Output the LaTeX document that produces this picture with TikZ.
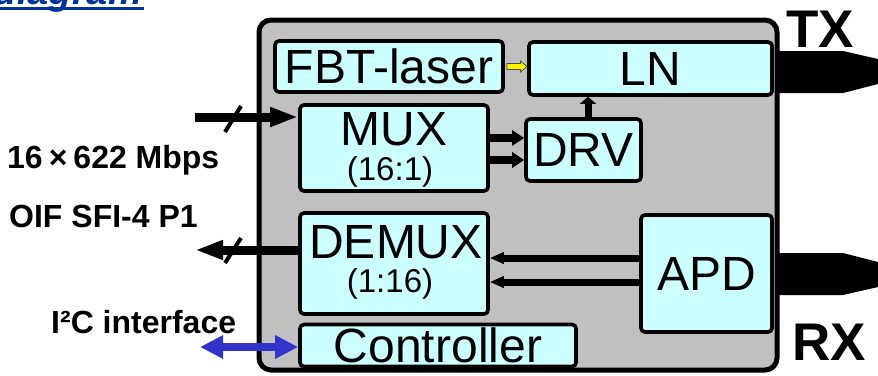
\documentclass[tikz,border=0pt]{standalone}
\usepackage{fontspec}
\setmainfont{Liberation Sans}
\usetikzlibrary{arrows.meta}
\definecolor{boxcyan}{RGB}{204,255,255}
\definecolor{panelgray}{RGB}{192,192,192}
\definecolor{titleblue}{RGB}{0,51,153}
\definecolor{i2cblue}{RGB}{51,51,204}
\tikzset{
  stepbox/.style={draw=black, line width=3.6pt, fill=boxcyan, rounded corners=4pt, inner sep=0pt},
  lbl/.style={font=\fontsize{48}{48}\selectfont, inner sep=0pt},
  sublbl/.style={font=\fontsize{33}{33}\selectfont, inner sep=0pt},
  sidelbl/.style={font=\bfseries\fontsize{32}{32}\selectfont, inner sep=0pt, anchor=base west},
  biglbl/.style={font=\bfseries\fontsize{53}{53}\selectfont, inner sep=0pt, anchor=base west},
  busarrow/.style={line width=9pt, -{Triangle[length=28pt,width=18pt]}},
  pairarrow/.style={line width=8pt, -{Triangle[length=12pt,width=15pt]}},
  rxarrow/.style={line width=7pt, -{Triangle[length=14pt,width=11pt]}},
  uparrow/.style={line width=7pt, -{Triangle[length=7pt,width=16pt]}},
  slashmark/.style={line width=4pt},
}
\begin{document}
\begin{tikzpicture}[x=1pt,y=-1pt]
\useasboundingbox (0,0) rectangle (878,375);
\clip (0,0) rectangle (878,375);
% title fragment
\node[anchor=base east, inner sep=0pt, text=titleblue, font=\bfseries\itshape\fontsize{38}{38}\selectfont] (title) at (142,4) {diagram};
\draw[titleblue, line width=2.6pt] (0,8.7) -- (144,8.7);
% panel
\draw[line width=5pt, fill=panelgray, rounded corners=12pt] (259,20) rectangle (777,370);
% fibers
\fill (779,51) -- (843,51) -- (878,59) -- (878,84) -- (843,93) -- (779,93) -- cycle;
\fill (779,253) -- (843,253) -- (878,262) -- (878,287) -- (843,295) -- (779,295) -- cycle;
% boxes
\node[stepbox, lbl, minimum width=228pt, minimum height=51pt] (fbt) at (389,66.5) {FBT-laser};
\node[stepbox, lbl, minimum width=243pt, minimum height=53pt] (ln) at (650.5,68.5) {LN};
\node[stepbox, minimum width=188pt, minimum height=86pt] (mux) at (394,148) {};
\node[stepbox, lbl, minimum width=115pt, minimum height=62pt] (drv) at (583.5,150) {DRV};
\node[stepbox, minimum width=188pt, minimum height=101pt] (demux) at (394,263.5) {};
\node[stepbox, lbl, minimum width=131pt, minimum height=117pt] (apd) at (706.5,273.5) {APD};
\node[stepbox, lbl, minimum width=276pt, minimum height=42pt] (ctrl) at (438,345.5) {Controller};
% two-line labels
\node[lbl, anchor=base] (muxt) at (394,145) {MUX};
\node[sublbl, anchor=base] (muxs) at (390,180) {(16:1)};
\node[lbl, anchor=base] (demuxt) at (396,258) {DEMUX};
\node[sublbl, anchor=base] (demuxs) at (390,292) {(1:16)};
% side labels
\node[biglbl] (tx) at (786,47) {TX};
\node[biglbl] (rx) at (792,360) {RX};
\node[sidelbl] (rate) at (7,168) {16\hspace{6pt}×\hspace{6pt}622 Mbps};
\node[sidelbl] (oif) at (9,227) {OIF SFI-4 P1};
\node[sidelbl] (i2c) at (51,333) {I²C interface};
% coordinates
\coordinate (inA) at (195,117);
\coordinate (outA) at (195,250);
\coordinate (i2cA) at (200,347);
\coordinate (y138) at (0,138);
\coordinate (y160) at (0,160);
\coordinate (y258) at (0,258);
\coordinate (y282) at (0,282);
\coordinate (x588) at (588,0);
% connectors
\draw[busarrow] (inA) -- (mux.west |- inA);
\draw[busarrow] (demux.west |- outA) -- (outA);
\draw[slashmark] (225,132) -- (241,106);
\draw[slashmark] (225,263) -- (241,238);
\draw[i2cblue, line width=8pt, {Triangle[length=23pt,width=22pt]}-{Triangle[length=23pt,width=22pt]}] (i2cA) -- (ctrl.west |- i2cA);
\draw[pairarrow] (mux.east |- y138) -- (drv.west |- y138);
\draw[pairarrow] (mux.east |- y160) -- (drv.west |- y160);
\draw[rxarrow] (apd.west |- y258) -- (demux.east |- y258);
\draw[rxarrow] (apd.west |- y282) -- (demux.east |- y282);
\draw[uparrow] (x588 |- drv.north) -- (x588 |- ln.south);
% yellow light arrow
\draw[fill=yellow, draw=black!70, line width=0.8pt] (507,63.5) -- (520.5,63.5) -- (520.5,61) -- (527,66.5) -- (520.5,72) -- (520.5,69.5) -- (507,69.5) -- cycle;
\end{tikzpicture}
\end{document}
